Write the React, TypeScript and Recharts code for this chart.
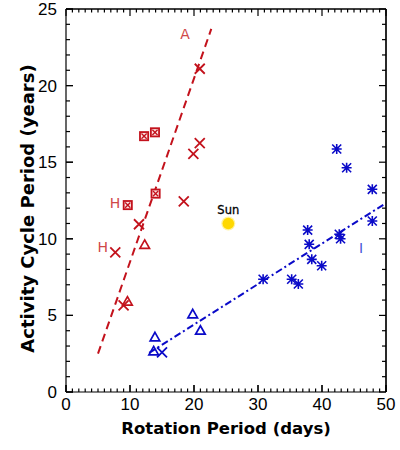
import React from 'react';
import { ScatterChart, Scatter, XAxis, YAxis, ReferenceLine } from 'recharts';

const FONT = '"DejaVu Sans", "Liberation Sans", Arial, sans-serif';
const TICK_FONT = '"Liberation Sans", Arial, Helvetica, sans-serif';
const RED = '#c3121c';
const RED_LABEL = '#d04848';
const BLUE = '#0a0ac8';
const BLUE_LABEL = '#4a58d8';

const X_MAX = 50;
const Y_MAX = 25;
const xMajorTicks = [0, 10, 20, 30, 40, 50];
const yMajorTicks = [0, 5, 10, 15, 20, 25];
const xAllTicks = Array.from({ length: 51 }, (_, i) => i);
const yAllTicks = Array.from({ length: 26 }, (_, i) => i);

// Red (active branch) stars
const redCrosses = [
  { x: 20.9, y: 21.1 },
  { x: 20.9, y: 16.25 },
  { x: 19.9, y: 15.55 },
  { x: 18.4, y: 12.45 },
  { x: 11.4, y: 10.95 },
  { x: 7.7, y: 9.12 },
  { x: 9.0, y: 5.65 },
];
const redBoxes = [
  { x: 12.2, y: 16.7 },
  { x: 13.9, y: 16.95 },
  { x: 14.0, y: 12.95 },
  { x: 9.65, y: 12.2 },
];
const redTriangles = [
  { x: 12.3, y: 9.6 },
  { x: 9.6, y: 5.9 },
];

// Blue (inactive branch) stars
const blueTriangles = [
  { x: 13.9, y: 3.57 },
  { x: 13.7, y: 2.65 },
  { x: 19.8, y: 5.07 },
  { x: 21.0, y: 4.0 },
];
const blueCrosses = [{ x: 15.0, y: 2.58 }];
const blueAsterisks = [
  { x: 42.3, y: 15.86 },
  { x: 43.85, y: 14.64 },
  { x: 47.86, y: 13.23 },
  { x: 47.86, y: 11.16 },
  { x: 37.76, y: 10.57 },
  { x: 38.0, y: 9.64 },
  { x: 42.7, y: 10.3 },
  { x: 42.9, y: 10.0 },
  { x: 38.4, y: 8.66 },
  { x: 39.95, y: 8.24 },
  { x: 30.8, y: 7.36 },
  { x: 35.26, y: 7.36 },
  { x: 36.3, y: 7.05 },
];

const sun = [{ x: 25.36, y: 11.0, label: 'Sun' }];

const redLabels = [
  { x: 18.6, y: 23.4, label: 'A' },
  { x: 7.66, y: 12.34, label: 'H' },
  { x: 5.73, y: 9.44, label: 'H' },
];
const blueLabels = [{ x: 46.1, y: 9.4, label: 'I' }];

const redFit = [
  { x: 5.0, y: 2.5 },
  { x: 22.7, y: 23.7 },
];
const blueFit = [
  { x: 13.0, y: 2.55 },
  { x: 50.0, y: 12.33 },
];

const frameAnchor = [{ x: 25, y: 12.5 }];

// plot area size in pixels (layout), used to express tick lengths in axis units
const PLOT_W = 320;
const PLOT_H = 383;
const pxToX = (px: number) => (px / PLOT_W) * X_MAX;
const pxToY = (px: number) => (px / PLOT_H) * Y_MAX;

const BottomLabel = (props: any) => {
  const { x, y, payload } = props;
  return (
    <g>
      <path d={`M${x},${y}L${x},${y - 7}`} stroke="#000" strokeWidth={1.2} />
      <text x={x} y={y + 18} textAnchor="middle" fontSize={17} fontFamily={TICK_FONT} fill="#000">
        {payload.value}
      </text>
    </g>
  );
};

const LeftLabel = (props: any) => {
  const { x, y, payload } = props;
  return (
    <g>
      <path d={`M${x},${y}L${x + 7},${y}`} stroke="#000" strokeWidth={1.2} />
      <text x={x - 9} y={y + 6} textAnchor="end" fontSize={17} fontFamily={TICK_FONT} fill="#000">
        {payload.value}
      </text>
    </g>
  );
};

const CrossShape = (color: string) => (p: any) => {
  const { cx, cy } = p;
  const s = 5;
  return (
    <path
      d={`M${cx - s},${cy - s}L${cx + s},${cy + s}M${cx - s},${cy + s}L${cx + s},${cy - s}`}
      stroke={color}
      strokeWidth={1.8}
      fill="none"
    />
  );
};

const BoxShape = (p: any) => {
  const { cx, cy } = p;
  return (
    <g>
      <rect x={cx - 5} y={cy - 5} width={10} height={10} fill={RED} />
      <rect x={cx - 3.2} y={cy - 3.2} width={6.4} height={6.4} fill="#fbe3e3" />
      <path
        d={`M${cx - 2.6},${cy - 2.6}L${cx + 2.6},${cy + 2.6}M${cx - 2.6},${cy + 2.6}L${cx + 2.6},${cy - 2.6}`}
        stroke={RED}
        strokeWidth={1.3}
      />
    </g>
  );
};

const TriangleShape = (color: string) => (p: any) => {
  const { cx, cy } = p;
  return (
    <path
      d={`M${cx},${cy - 5}L${cx + 4.8},${cy + 3.5}L${cx - 4.8},${cy + 3.5}Z`}
      stroke={color}
      strokeWidth={1.7}
      fill="none"
      strokeLinejoin="miter"
    />
  );
};

const AsteriskShape = (p: any) => {
  const { cx, cy } = p;
  const s = 4.5;
  return (
    <path
      d={`M${cx - s},${cy - s}L${cx + s},${cy + s}M${cx - s},${cy + s}L${cx + s},${cy - s}M${cx},${cy - s - 0.5}L${cx},${cy + s + 0.5}M${cx - s - 0.5},${cy}L${cx + s + 0.5},${cy}`}
      stroke={BLUE}
      strokeWidth={1.6}
      fill="none"
    />
  );
};

const SunShape = (p: any) => {
  const { cx, cy, payload } = p;
  return (
    <g>
      <circle cx={cx} cy={cy} r={7} fill="#fff3a0" />
      <circle cx={cx} cy={cy} r={5.8} fill="#ffd800" />
      <text x={cx} y={cy - 9} textAnchor="middle" fontSize={11.5} fontFamily={FONT} fill="#000" stroke="#000" strokeWidth={0.3}>
        {payload.label}
      </text>
    </g>
  );
};

const TextShape = (color: string) => (p: any) => {
  const { cx, cy, payload } = p;
  return (
    <text x={cx} y={cy + 5} textAnchor="middle" fontSize={14} fontFamily={FONT} fill={color}>
      {payload.label}
    </text>
  );
};

export default function App() {
  return (
    <div style={{ position: 'absolute', left: 0, top: 0, width: 400, height: 450, background: '#fff' }}>
      <ScatterChart width={400} height={450} margin={{ top: 0, right: 0, left: 0, bottom: 0 }}>
        <XAxis
          xAxisId="b"
          dataKey="x"
          type="number"
          domain={[0, X_MAX]}
          ticks={xMajorTicks}
          interval={0}
          tickSize={0}
          tickMargin={0}
          tick={BottomLabel}
          tickLine={false}
          axisLine={{ stroke: '#000', strokeWidth: 1.2 }}
          height={58}
          label={(lp: any) => {
            const vb = lp.viewBox || { x: 66, y: 392, width: 320, height: 58 };
            return (
              <text
                x={vb.x + vb.width / 2}
                y={vb.y + 42}
                textAnchor="middle"
                fontSize={16.5}
                fontWeight="bold"
                fontFamily={FONT}
                fill="#000"
              >
                Rotation Period (days)
              </text>
            );
          }}
        />
        <XAxis
          xAxisId="t"
          dataKey="x"
          type="number"
          orientation="top"
          domain={[0, X_MAX]}
          ticks={xMajorTicks}
          interval={0}
          tickSize={-7}
          tick={false}
          tickLine={{ stroke: '#000', strokeWidth: 1.2 }}
          axisLine={{ stroke: '#000', strokeWidth: 1.2 }}
          height={9}
        />
        <YAxis
          yAxisId="l"
          dataKey="y"
          type="number"
          domain={[0, Y_MAX]}
          ticks={yMajorTicks}
          interval={0}
          tickSize={0}
          tickMargin={0}
          tick={LeftLabel}
          tickLine={false}
          axisLine={{ stroke: '#000', strokeWidth: 1.2 }}
          width={66}
          label={(lp: any) => {
            const vb = lp.viewBox || { x: 0, y: 9, width: 66, height: 383 };
            const cx = vb.x + 27;
            const cy = vb.y + vb.height / 2 + 8;
            return (
              <text
                x={cx}
                y={cy}
                transform={`rotate(-90 ${cx} ${cy})`}
                textAnchor="middle"
                dominantBaseline="central"
                fontSize={18}
                fontWeight="bold"
                fontFamily={FONT}
                fill="#000"
              >
                Activity Cycle Period (years)
              </text>
            );
          }}
        />
        <YAxis
          yAxisId="r"
          dataKey="y"
          type="number"
          orientation="right"
          domain={[0, Y_MAX]}
          ticks={yMajorTicks}
          interval={0}
          tickSize={-7}
          tick={false}
          tickLine={{ stroke: '#000', strokeWidth: 1.2 }}
          axisLine={{ stroke: '#000', strokeWidth: 1.2 }}
          width={14}
        />

        {/* frame top and right drawn again through the data scales */}
        <ReferenceLine
          xAxisId="b"
          yAxisId="l"
          segment={[{ x: 0, y: Y_MAX }, { x: X_MAX, y: Y_MAX }]}
          stroke="#000"
          strokeWidth={1.2}
          ifOverflow="visible"
        />
        <ReferenceLine
          xAxisId="b"
          yAxisId="l"
          segment={[{ x: X_MAX, y: 0 }, { x: X_MAX, y: Y_MAX }]}
          stroke="#000"
          strokeWidth={1.2}
          ifOverflow="visible"
        />

        {/* inward tick marks on all four sides */}
        {xAllTicks.map((t) => {
          const len = pxToY(t % 10 === 0 ? 7 : 3.5);
          return (
            <ReferenceLine
              key={`xb${t}`}
              xAxisId="b"
              yAxisId="l"
              segment={[{ x: t, y: 0 }, { x: t, y: len }]}
              stroke="#000"
              strokeWidth={1.2}
              ifOverflow="visible"
            />
          );
        })}
        {xAllTicks.map((t) => {
          const len = pxToY(t % 10 === 0 ? 7 : 3.5);
          return (
            <ReferenceLine
              key={`xt${t}`}
              xAxisId="b"
              yAxisId="l"
              segment={[{ x: t, y: Y_MAX - len }, { x: t, y: Y_MAX }]}
              stroke="#000"
              strokeWidth={1.2}
              ifOverflow="visible"
            />
          );
        })}
        {yAllTicks.map((t) => {
          const len = pxToX(t % 5 === 0 ? 7 : 4);
          return (
            <ReferenceLine
              key={`yl${t}`}
              xAxisId="b"
              yAxisId="l"
              segment={[{ x: 0, y: t }, { x: len, y: t }]}
              stroke="#000"
              strokeWidth={1.2}
              ifOverflow="visible"
            />
          );
        })}
        {yAllTicks.map((t) => {
          const len = pxToX(t % 5 === 0 ? 7 : 4);
          return (
            <ReferenceLine
              key={`yr${t}`}
              xAxisId="b"
              yAxisId="l"
              segment={[{ x: X_MAX - len, y: t }, { x: X_MAX, y: t }]}
              stroke="#000"
              strokeWidth={1.2}
              ifOverflow="visible"
            />
          );
        })}

        <ReferenceLine
          xAxisId="b"
          yAxisId="l"
          segment={redFit}
          stroke={RED}
          strokeWidth={2}
          strokeDasharray="8 5"
        />
        <ReferenceLine
          xAxisId="b"
          yAxisId="l"
          segment={blueFit}
          stroke={BLUE}
          strokeWidth={2}
          strokeDasharray="7 3 2 3"
        />

        <Scatter xAxisId="t" yAxisId="r" data={frameAnchor} fill="rgba(0,0,0,0)" isAnimationActive={false} />
        <Scatter xAxisId="b" yAxisId="l" data={redCrosses} shape={CrossShape(RED)} isAnimationActive={false} />
        <Scatter xAxisId="b" yAxisId="l" data={redBoxes} shape={BoxShape} isAnimationActive={false} />
        <Scatter xAxisId="b" yAxisId="l" data={redTriangles} shape={TriangleShape(RED)} isAnimationActive={false} />
        <Scatter xAxisId="b" yAxisId="l" data={blueTriangles} shape={TriangleShape(BLUE)} isAnimationActive={false} />
        <Scatter xAxisId="b" yAxisId="l" data={blueCrosses} shape={CrossShape(BLUE)} isAnimationActive={false} />
        <Scatter xAxisId="b" yAxisId="l" data={blueAsterisks} shape={AsteriskShape} isAnimationActive={false} />
        <Scatter xAxisId="b" yAxisId="l" data={sun} shape={SunShape} isAnimationActive={false} />
        <Scatter xAxisId="b" yAxisId="l" data={redLabels} shape={TextShape(RED_LABEL)} isAnimationActive={false} />
        <Scatter xAxisId="b" yAxisId="l" data={blueLabels} shape={TextShape(BLUE_LABEL)} isAnimationActive={false} />
      </ScatterChart>
    </div>
  );
}
